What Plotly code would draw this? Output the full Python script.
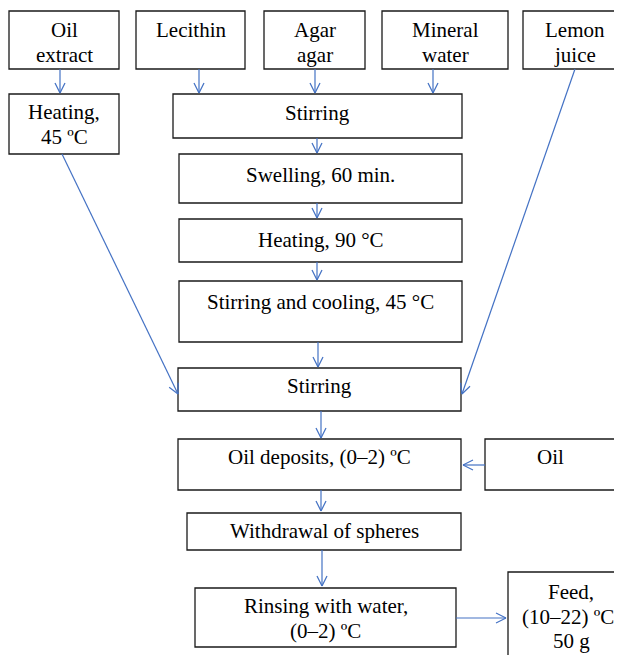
import math
import plotly.graph_objects as go

# Flowchart nodes: label lines
labels = [
    ["Oil", "extract"],
    ["Lecithin"],
    ["Agar", "agar"],
    ["Mineral", "water"],
    ["Lemon", "juice"],
    ["Heating,", "45 ºC"],
    ["Stirring"],
    ["Swelling, 60 min."],
    ["Heating, 90 °C"],
    ["Stirring and cooling, 45 °C"],
    ["Stirring"],
    ["Oil deposits, (0–2) ºC"],
    ["Oil"],
    ["Withdrawal of spheres"],
    ["Rinsing with water,", "(0–2) ºC"],
    ["Feed,", "(10–22) ºC,", "50 g"],
]

# Box geometry (x0, y0, x1, y1) in page pixel space
boxes = [
    (9, 11, 119, 69),
    (136, 11, 245, 69),
    (264, 11, 365, 69),
    (382, 11, 508, 69),
    (523, 11, 627, 69),
    (9, 94, 119, 154),
    (173, 94, 462, 138),
    (179, 154, 462, 203),
    (179, 219, 462, 262),
    (179, 281, 462, 342),
    (178, 368, 461, 411),
    (178, 439, 461, 490),
    (485, 439, 615, 490),
    (187, 513, 461, 550),
    (195, 588, 456, 647),
    (508, 572, 634, 670),
]
# first text line y for each box
text_y = [30, 30, 30, 30, 30, 112, 113, 175, 240, 302, 386, 457, 457, 531, 606, 592]
line_gap = 24.5

# Arrows (x0, y0) -> (x1, y1)
arrows = [
    (60, 69, 60, 93),
    (199, 69, 199, 93),
    (315, 69, 315, 93),
    (433, 69, 433, 93),
    (575, 69, 462, 394),
    (62, 154, 178, 394),
    (317, 138, 317, 153),
    (317, 203, 317, 218),
    (317, 262, 317, 280),
    (318, 342, 318, 367),
    (321, 411, 321, 438),
    (485, 465, 463, 465),
    (321, 490, 321, 511),
    (322, 550, 322, 586),
    (456, 618, 506, 618),
]

ARROW = "#4472C4"
FONT = "Liberation Serif"

fig = go.Figure()
shapes = []
annotations = []
for (x0, y0, x1, y1), lines, ty in zip(boxes, labels, text_y):
    shapes.append(dict(type="rect", xref="x", yref="y", x0=x0, y0=y0, x1=x1, y1=y1,
                       line=dict(color="#1a1a1a", width=1.3), fillcolor="white", layer="above"))
    cx = (x0 + x1) / 2
    for i, t in enumerate(lines):
        annotations.append(dict(x=cx, y=ty + i * line_gap, xref="x", yref="y", text=t,
                                showarrow=False, xanchor="center", yanchor="middle",
                                font=dict(family=FONT, size=21, color="black")))

for x0, y0, x1, y1 in arrows:
    shapes.append(dict(type="line", xref="x", yref="y", x0=x0, y0=y0, x1=x1, y1=y1,
                       line=dict(color=ARROW, width=1.2), layer="above"))
    ang = math.atan2(y1 - y0, x1 - x0)
    L, W = 10, 5
    bx, by = x1 - L * math.cos(ang), y1 - L * math.sin(ang)
    px, py = -math.sin(ang), math.cos(ang)
    for s in (1, -1):
        shapes.append(dict(type="line", xref="x", yref="y", x0=bx + s * W * px, y0=by + s * W * py,
                           x1=x1, y1=y1, line=dict(color=ARROW, width=1.2), layer="above"))

# page has an 8px body margin; plot covers page pixels 8..622 / 8..655
fig.update_layout(
    width=614, height=647, margin=dict(l=0, r=0, t=0, b=0),
    paper_bgcolor="white", plot_bgcolor="white",
    xaxis=dict(range=[8, 622], visible=False, fixedrange=True),
    yaxis=dict(range=[655, 8], visible=False, fixedrange=True),
    shapes=shapes, annotations=annotations, showlegend=False,
)
fig.write_html("out.html")
